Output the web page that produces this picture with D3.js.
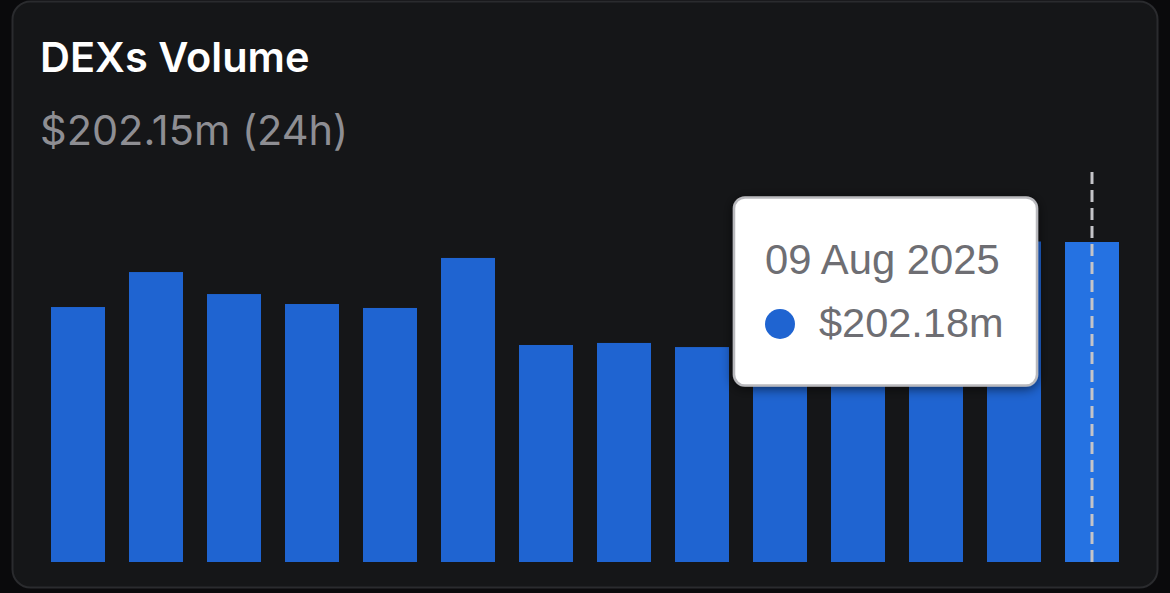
<!DOCTYPE html>
<html><head><meta charset="utf-8">
<script src="https://cdn.jsdelivr.net/npm/d3@7"></script>
<style>
html,body{margin:0;padding:0;background:#0a0a0c;}
svg{display:block;}
</style></head>
<body>
<script>
const dates = ["27 Jul 2025","28 Jul 2025","29 Jul 2025","30 Jul 2025","31 Jul 2025","01 Aug 2025","02 Aug 2025","03 Aug 2025","04 Aug 2025","05 Aug 2025","06 Aug 2025","07 Aug 2025","08 Aug 2025","09 Aug 2025"];
const volumes = [161.1, 183.2, 169.3, 163.0, 160.5, 192.1, 137.1, 138.4, 135.8, 158.0, 171.0, 188.0, 202.5, 202.18];
const title = "DEXs Volume";
const subtitle = "$202.15m (24h)";
const hoverIndex = 13;
const tooltipValue = "$202.18m";

const W = 1170, H = 593;
const svg = d3.select("body").append("svg").attr("width", W).attr("height", H);

const defs = svg.append("defs");
const f = defs.append("filter").attr("id","sh").attr("x","-20%").attr("y","-20%").attr("width","140%").attr("height","140%");
f.append("feDropShadow").attr("dx",0).attr("dy",2).attr("stdDeviation",6).attr("flood-color","#000").attr("flood-opacity",0.6);

svg.append("rect").attr("width",W).attr("height",H).attr("fill","#0a0a0c");
svg.append("rect").attr("x",12.5).attr("y",1.5).attr("width",1145).attr("height",586).attr("rx",18)
  .attr("fill","#151618").attr("stroke","#2a2b2e").attr("stroke-width",2);

svg.append("text").attr("x",40).attr("y",72).text(title)
  .attr("font-family","Inter, 'Open Sans', sans-serif").attr("font-weight",600).attr("font-size",41.5)
  .attr("fill","#ffffff");
svg.append("text").attr("x",40).attr("y",145).text(subtitle)
  .attr("font-family","Inter, 'Open Sans', sans-serif").attr("font-weight",400).attr("font-size",41.5)
  .attr("fill","#8e8e93");

const x = d3.scaleBand().domain(dates).range([51,1119]).paddingInner(0.3077).paddingOuter(0);
const y = d3.scaleLinear().domain([0,202.18]).range([562,242]);

svg.append("g").selectAll("rect").data(volumes).join("rect")
  .attr("x",(d,i)=>x(dates[i]))
  .attr("y",d=>y(d))
  .attr("width",x.bandwidth())
  .attr("height",d=>y(0)-y(d))
  .attr("fill",(d,i)=> i===hoverIndex ? "#2572e2" : "#1f64d1");

const cx = x(dates[hoverIndex]) + x.bandwidth()/2;
svg.append("line").attr("x1",cx).attr("x2",cx).attr("y1",172).attr("y2",y(0))
  .attr("stroke","#c4c4c8").attr("stroke-width",3).attr("stroke-dasharray","12,6");

const tg = svg.append("g");
tg.append("rect").attr("x",734).attr("y",197.5).attr("width",303).attr("height",188).attr("rx",11)
  .attr("fill","#ffffff").attr("stroke","#b9b9bd").attr("stroke-width",2.5).attr("filter","url(#sh)");
tg.append("text").attr("x",765).attr("y",274).text(dates[hoverIndex])
  .attr("font-family","'Liberation Sans', Arial, sans-serif").attr("font-size",41.8).attr("fill","#6e6e73");
tg.append("circle").attr("cx",780).attr("cy",324).attr("r",15).attr("fill","#1f64d1");
tg.append("text").attr("x",819).attr("y",337).text(tooltipValue)
  .attr("font-family","'Liberation Sans', Arial, sans-serif").attr("font-size",41.5).attr("fill","#6e6e73");
</script>
</body></html>
